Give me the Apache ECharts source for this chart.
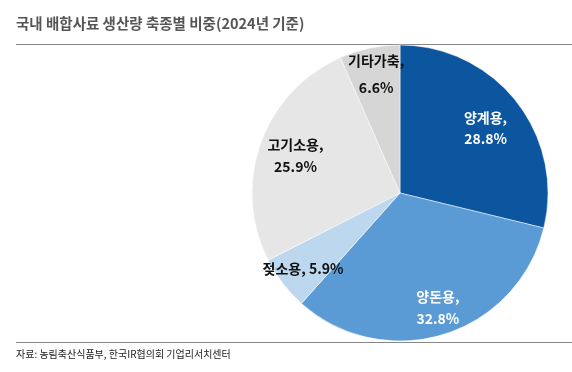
<!DOCTYPE html>
<html><head><meta charset="utf-8">
<script src="https://cdn.jsdelivr.net/npm/echarts@6/dist/echarts.min.js"></script>
<style>html,body{margin:0;padding:0;background:#fff}#c{width:572px;height:372px}</style>
</head><body><div id="c"></div>
<script>
const categories = ['양계용', '양돈용', '젖소용', '고기소용', '기타가축'];
const values = [28.8, 32.8, 5.9, 25.9, 6.6];
const colors = ['#0c569f', '#5b9bd5', '#bdd7ee', '#e6e6e6', '#d6d6d6'];
const labelColors = ['#fff', '#fff', '#111', '#111', '#111'];
const labelShift = [[25, -17], [15, 41], [-36, 29], [-32, -11], [-8, -43]];
const oneLine = [false, false, true, false, false];
const lineHeights = [21, 22, 21, 22, 27];

const chart = echarts.init(document.getElementById('c'));
chart.setOption({
  animation: false,
  graphic: [
    {type: 'text', left: 16, top: 16, style: {text: '국내 배합사료 생산량 축종별 비중(2024년 기준)', fontSize: 14.5, fontWeight: 'bold', fill: '#555', fontFamily: 'Noto Sans CJK KR'}},
    {type: 'line', shape: {x1: 16, y1: 44.5, x2: 572, y2: 44.5}, style: {stroke: '#888', lineWidth: 1}},
    {type: 'line', shape: {x1: 16, y1: 342.5, x2: 572, y2: 342.5}, style: {stroke: '#888', lineWidth: 1}, z: 100},
    {type: 'text', left: 16, top: 349, style: {text: '자료: 농림축산식품부, 한국IR협의회 기업리서치센터', fontSize: 10, fill: '#222', fontFamily: 'Noto Sans CJK KR'}}
  ],
  series: [{
    type: 'pie',
    center: [400, 193],
    radius: [0, 148],
    startAngle: 90,
    clockwise: true,
    data: categories.map((n, i) => ({
      name: n, value: values[i],
      itemStyle: {color: colors[i]},
      label: {color: labelColors[i], lineHeight: lineHeights[i]}
    })),
    itemStyle: {borderColor: '#fff', borderWidth: 0.5},
    label: {
      position: 'inside',
      fontSize: 14, fontWeight: 'bold', fontFamily: 'Noto Sans CJK KR',
      formatter: p => oneLine[p.dataIndex] ? p.name + ', ' + p.value.toFixed(1) + '%' : p.name + ',\n' + p.value.toFixed(1) + '%'
    },
    labelLine: {show: false},
    labelLayout: p => ({dx: labelShift[p.dataIndex][0], dy: labelShift[p.dataIndex][1]})
  }]
});
</script></body></html>
